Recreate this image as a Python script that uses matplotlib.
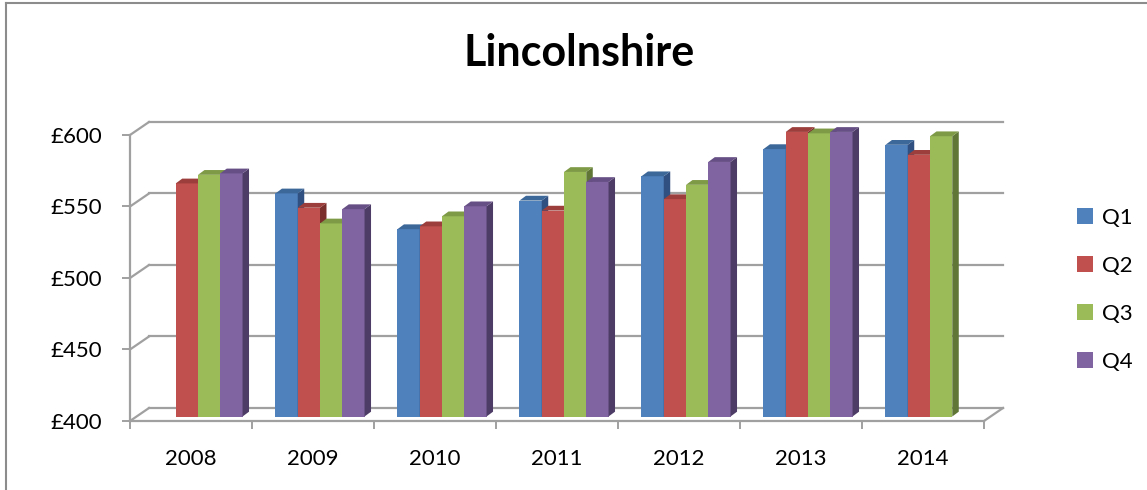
import numpy as np
import matplotlib
matplotlib.use('Agg')
import matplotlib.pyplot as plt
from matplotlib.patches import Polygon, Patch
from matplotlib.lines import Line2D
from matplotlib.transforms import Affine2D, IdentityTransform

# data (missing quarters left as nan)
years = ['2008', '2009', '2010', '2011', '2012', '2013', '2014']
quarters = ['Q1', 'Q2', 'Q3', 'Q4']
q1 = [np.nan, 556, 531, 551, 568, 587, 590]
q2 = [563, 546, 533, 544, 552, 599, 583]
q3 = [569, 535, 540, 571, 562, 598, 596]
q4 = [570, 545, 547, 564, 578, 599, np.nan]
y_ticks = [400, 450, 500, 550, 600]
y_labels = ['£400', '£450', '£500', '£550', '£600']

series = [q1, q2, q3, q4]
face = ['#4F81BD', '#C0504D', '#9BBB59', '#8064A2']
top = ['#3C6799', '#9C3E3B', '#7E9A46', '#664F85']
side = ['#2F5080', '#7A2F2D', '#5F7636', '#4D3C66']
grid = '#a0a0a0'

plt.rcParams['font.family'] = ['Lato', 'DejaVu Sans']

W, H = 1147, 490
fig = plt.figure(figsize=(W / 100, H / 100), dpi=100)
ax = fig.add_axes([130 / W, 1 - 421 / H, (984 - 130) / W, (421 - 135) / H])
ax.set_xlim(-0.5, 6.5)
ax.set_ylim(400, 600)
ax.set_autoscale_on(False)

# 3d-ish offsets in pixels
back = (19, 13)       # front plane -> back wall
front_bar = (7, 4.5)  # front plane -> bar front face
depth = (6.5, 4.8)    # bar depth

back_tr = ax.transData + Affine2D().translate(*back)
bar_tr = ax.transData + Affine2D().translate(*front_bar)
ident = IdentityTransform()

# back wall gridlines + left wall diagonals
for v in y_ticks:
    ax.plot([-0.5, 6.5], [v, v], transform=back_tr, color=grid, lw=1.6,
            clip_on=False, zorder=1)
    p = ax.transData.transform((-0.5, v))
    ax.add_line(Line2D([p[0], p[0] + back[0]], [p[1], p[1] + back[1]],
                       transform=ident, color=grid, lw=1.6, clip_on=False, zorder=1))
# right floor edge
p = ax.transData.transform((6.5, 400))
ax.add_line(Line2D([p[0], p[0] + back[0]], [p[1], p[1] + back[1]],
                   transform=ident, color=grid, lw=1.6, clip_on=False, zorder=1))

# bars
w = 0.73 / 4
x = np.arange(len(years))
for j, vals in enumerate(series):
    vals = np.array(vals, dtype=float)
    left = x - 0.365 + j * w
    ok = ~np.isnan(vals)
    bars = ax.bar(left[ok], vals[ok] - 400, bottom=400, width=w, align='edge',
                  color=face[j], transform=bar_tr, clip_on=False, linewidth=0)
    for b, i, v in zip(bars, x[ok], vals[ok]):
        z = 3 + i * 0.1 + j * 0.01
        b.set_zorder(z)
        xl, xr = i - 0.365 + j * w, i - 0.365 + (j + 1) * w
        a1 = bar_tr.transform((xr, 400))
        a2 = bar_tr.transform((xr, v))
        d = np.array(depth)
        ax.add_patch(Polygon([a1, a2, a2 + d, a1 + d], closed=True, transform=ident,
                             facecolor=side[j], edgecolor='none', clip_on=False, zorder=z))
        t1 = bar_tr.transform((xl, v))
        ax.add_patch(Polygon([t1, a2, a2 + d, t1 + d], closed=True, transform=ident,
                             facecolor=top[j], edgecolor='none', clip_on=False, zorder=z))

# front axes
for s in ['top', 'right']:
    ax.spines[s].set_visible(False)
for s in ['left', 'bottom']:
    ax.spines[s].set_color(grid)
    ax.spines[s].set_linewidth(1.6)
ax.set_yticks(y_ticks)
ax.set_yticklabels(y_labels)
ax.set_xticks(x)
ax.set_xticklabels(years)
ax.set_xticks(np.arange(-0.5, 7, 1), minor=True)
ax.tick_params(axis='y', length=6, width=1.4, color=grid, pad=14, labelsize=16)
ax.tick_params(axis='x', which='major', length=0, pad=20, labelsize=16)
ax.tick_params(axis='x', which='minor', length=6, width=1.4, color=grid)
ax.patch.set_visible(False)

fig.text(579 / W, 1 - 66 / H, 'Lincolnshire', ha='center', va='baseline',
         fontsize=31, fontweight='bold')

handles = [Patch(facecolor=c) for c in face]
fig.legend(handles, quarters, loc='center left', bbox_to_anchor=(1077 / W, 1 - 290 / H),
           frameon=False, fontsize=16, handlelength=0.72, handleheight=0.72,
           handletextpad=0.4, labelspacing=1.26, borderpad=0, borderaxespad=0)

# chart border (only top and left edges fall inside the picture)
fig.add_artist(Line2D([6 / W, 1], [1 - 3.5 / H, 1 - 3.5 / H], transform=fig.transFigure,
                      color='#8c8c8c', lw=1.5))
fig.add_artist(Line2D([6 / W, 6 / W], [0, 1 - 3.5 / H], transform=fig.transFigure,
                      color='#8c8c8c', lw=1.5))

fig.savefig('out.png', dpi=100)
